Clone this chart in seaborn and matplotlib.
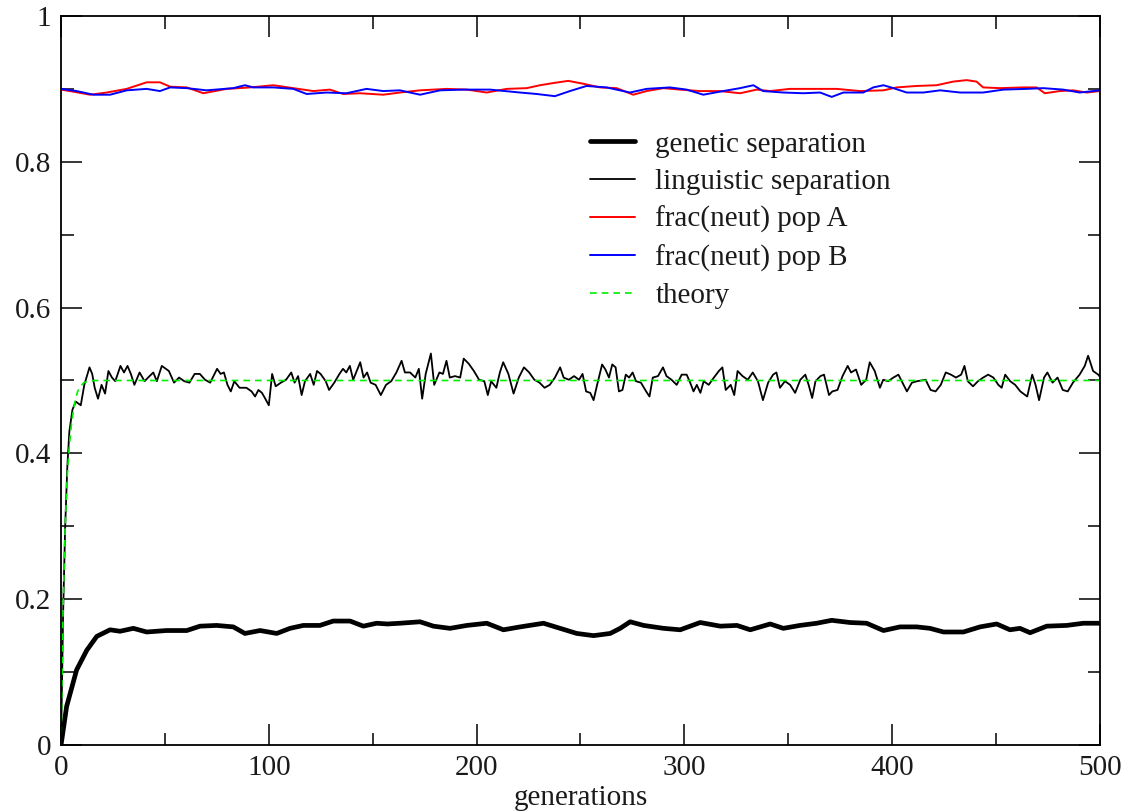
import numpy as np
import matplotlib
matplotlib.use("Agg")
import matplotlib.pyplot as plt
import seaborn as sns

# values
theory_gen = [0, 1, 2, 3, 4, 5, 6, 7, 8, 9, 10, 11, 12, 14, 16, 20, 500]
theory_val = [0.0, 0.19, 0.30, 0.37, 0.41, 0.44, 0.46, 0.475, 0.485, 0.49,
              0.494, 0.497, 0.498, 0.499, 0.5, 0.5, 0.5]

ling_gen = [0, 1, 2, 3, 4, 5.5, 7.1, 9.5, 11.2, 13.7, 15.0, 16.2, 17.8, 19.5, 21.2,
            22.8, 24.5, 26.1, 28.6, 30.3, 32.0, 33.6, 35.3, 37.8, 40.2, 41.9, 44.4,
            46.1, 48.5, 51.9, 54.4, 56.8, 59.3, 61.8, 64.3, 66.8, 69.3, 71.8, 75.1,
            76.8, 78.4, 80.1, 81.7, 83.4, 85.9, 89.2, 91.7, 93.4, 95.0, 96.7, 98.3,
            100.0, 101.6, 103.3, 105.8, 108.3, 110.8, 112.4, 114.1, 115.8, 117.4,
            119.9, 121.6, 123.2, 124.9, 127.4, 129.0, 131.5, 134.0, 135.7, 137.3,
            139.0, 140.6, 144.0, 145.6, 147.3, 149.0, 151.4, 153.9, 156.4, 158.9,
            161.4, 163.9, 165.5, 168.0, 170.5, 172.2, 173.8, 175.5, 178.0, 179.6,
            182.1, 183.8, 185.5, 187.1, 189.6, 192.1, 193.8, 196.2, 198.7, 201.2,
            203.7, 205.4, 207.0, 209.5, 211.2, 212.8, 215.3, 217.8, 220.3, 222.8,
            225.3, 227.8, 230.3, 232.7, 235.2, 237.7, 240.2, 241.9, 244.4, 246.9,
            249.3, 251.0, 252.7, 254.7, 256.3, 258.0, 260.4, 262.0, 263.7, 265.3,
            266.9, 268.5, 270.2, 271.8, 273.4, 275.1, 276.7, 279.1, 281.6, 283.2,
            284.8, 287.3, 289.7, 291.4, 293.8, 296.3, 298.7, 301.1, 302.8, 304.4,
            306.0, 307.7, 309.3, 311.7, 314.2, 316.6, 318.3, 319.9, 322.3, 324.0,
            325.6, 328.0, 330.5, 332.9, 335.4, 337.8, 340.3, 342.7, 344.3, 346.0,
            348.4, 350.9, 353.3, 355.8, 358.2, 359.8, 361.5, 363.1, 365.5, 367.2,
            369.6, 371.2, 373.7, 376.1, 378.6, 380.2, 382.6, 385.1, 387.5, 389.2,
            391.6, 394.1, 395.7, 398.1, 400.6, 403.0, 405.5, 407.1, 409.5, 412.0,
            416.1, 418.5, 420.9, 423.4, 425.8, 428.3, 430.7, 433.2, 434.8, 436.4,
            438.9, 441.3, 443.8, 446.2, 448.7, 451.1, 452.7, 454.4, 456.8, 459.2,
            461.7, 465.0, 467.4, 469.0, 470.7, 473.1, 474.7, 477.2, 479.6, 482.1,
            484.5, 487.0, 490.2, 492.7, 494.3, 496.7, 499.2, 500]
ling_val = [0.0, 0.18, 0.30, 0.38, 0.43, 0.46, 0.471, 0.466, 0.494, 0.518, 0.509,
            0.490, 0.475, 0.494, 0.482, 0.513, 0.504, 0.499, 0.520, 0.511, 0.520,
            0.509, 0.494, 0.511, 0.499, 0.504, 0.511, 0.499, 0.520, 0.513, 0.497,
            0.504, 0.499, 0.497, 0.509, 0.509, 0.501, 0.497, 0.516, 0.509, 0.511,
            0.494, 0.485, 0.499, 0.490, 0.490, 0.485, 0.478, 0.487, 0.483, 0.475,
            0.466, 0.509, 0.492, 0.497, 0.501, 0.511, 0.497, 0.506, 0.480, 0.499,
            0.509, 0.494, 0.513, 0.509, 0.499, 0.487, 0.497, 0.509, 0.516, 0.511,
            0.520, 0.501, 0.525, 0.504, 0.511, 0.497, 0.494, 0.480, 0.494, 0.499,
            0.511, 0.527, 0.511, 0.511, 0.504, 0.516, 0.475, 0.509, 0.537, 0.494,
            0.511, 0.509, 0.527, 0.504, 0.506, 0.504, 0.530, 0.523, 0.513, 0.501,
            0.499, 0.480, 0.499, 0.490, 0.511, 0.525, 0.509, 0.482, 0.504, 0.518,
            0.511, 0.501, 0.497, 0.490, 0.494, 0.504, 0.518, 0.504, 0.501, 0.506,
            0.501, 0.509, 0.485, 0.483, 0.473, 0.494, 0.522, 0.515, 0.504, 0.522,
            0.518, 0.485, 0.487, 0.508, 0.504, 0.511, 0.499, 0.497, 0.485, 0.478,
            0.504, 0.506, 0.518, 0.506, 0.501, 0.494, 0.508, 0.508, 0.497, 0.485,
            0.494, 0.483, 0.499, 0.494, 0.504, 0.513, 0.518, 0.487, 0.494, 0.480,
            0.513, 0.506, 0.501, 0.511, 0.499, 0.473, 0.497, 0.508, 0.511, 0.490,
            0.499, 0.494, 0.483, 0.501, 0.508, 0.494, 0.476, 0.499, 0.506, 0.508,
            0.480, 0.485, 0.487, 0.506, 0.520, 0.511, 0.515, 0.494, 0.501, 0.525,
            0.513, 0.490, 0.501, 0.499, 0.504, 0.508, 0.494, 0.485, 0.497, 0.499,
            0.501, 0.487, 0.485, 0.494, 0.511, 0.508, 0.504, 0.508, 0.520, 0.499,
            0.492, 0.499, 0.504, 0.508, 0.504, 0.494, 0.490, 0.508, 0.499, 0.494,
            0.485, 0.478, 0.508, 0.494, 0.473, 0.504, 0.511, 0.497, 0.504, 0.487,
            0.485, 0.497, 0.508, 0.520, 0.534, 0.513, 0.508, 0.505]

gene_gen = [0, 2.7, 7.5, 12.4, 17.2, 23.6, 28.4, 34.8, 41.2, 50.8, 60.5, 66.9, 74.9,
            82.9, 88.5, 95.8, 103.8, 110.2, 116.6, 124.6, 131.0, 139.1, 145.5, 151.9,
            157.0, 163.1, 172.8, 179.2, 187.2, 195.3, 204.9, 212.9, 221.0, 232.2,
            240.2, 248.2, 256.3, 264.3, 269.1, 273.9, 280.4, 290.0, 298.0, 307.6,
            317.3, 325.3, 331.7, 341.3, 347.6, 355.6, 363.7, 370.9, 379.7, 387.7,
            395.8, 403.8, 411.8, 418.2, 424.7, 434.3, 442.3, 450.3, 456.7, 461.5,
            466.4, 474.4, 484.0, 492.0, 500]
gene_val = [0.0, 0.053, 0.103, 0.130, 0.149, 0.158, 0.156, 0.160, 0.155, 0.157,
            0.157, 0.163, 0.164, 0.162, 0.153, 0.157, 0.153, 0.160, 0.164, 0.164,
            0.170, 0.170, 0.163, 0.167, 0.166, 0.167, 0.169, 0.163, 0.160, 0.164,
            0.167, 0.158, 0.162, 0.167, 0.160, 0.153, 0.150, 0.153, 0.160, 0.169,
            0.164, 0.160, 0.158, 0.168, 0.163, 0.164, 0.158, 0.166, 0.160, 0.164,
            0.167, 0.171, 0.168, 0.167, 0.157, 0.162, 0.162, 0.160, 0.155, 0.155,
            0.162, 0.166, 0.158, 0.160, 0.154, 0.163, 0.164, 0.167, 0.167]

popA_gen = [0, 4.3, 14.0, 22.0, 31.6, 41.2, 47.6, 52.5, 60.5, 68.5, 79.7, 91.0,
            102.2, 111.8, 121.4, 129.4, 135.8, 143.9, 155.1, 163.1, 172.8, 185.6,
            195.3, 204.9, 214.5, 224.1, 230.5, 236.9, 244.1, 251.4, 259.4, 267.4,
            275.4, 281.8, 289.9, 297.9, 307.5, 317.1, 326.8, 334.8, 341.2, 350.8,
            363.7, 373.3, 384.5, 395.8, 402.2, 411.8, 421.4, 429.4, 435.8, 440.6,
            443.8, 451.9, 463.1, 469.5, 473.5, 480.7, 487.1, 493.6, 500]
popA_val = [0.899, 0.897, 0.892, 0.895, 0.900, 0.909, 0.909, 0.903, 0.902, 0.894,
            0.900, 0.902, 0.905, 0.901, 0.897, 0.899, 0.893, 0.894, 0.892, 0.895,
            0.898, 0.900, 0.899, 0.895, 0.900, 0.901, 0.905, 0.908, 0.911, 0.907,
            0.902, 0.901, 0.892, 0.897, 0.901, 0.899, 0.897, 0.897, 0.894, 0.899,
            0.897, 0.900, 0.900, 0.900, 0.897, 0.898, 0.902, 0.904, 0.905, 0.910,
            0.912, 0.910, 0.902, 0.901, 0.902, 0.902, 0.894, 0.897, 0.898, 0.895,
            0.897]

popB_gen = [0, 7.5, 15.6, 23.6, 31.6, 41.2, 47.6, 52.5, 60.5, 70.1, 82.9, 88.5,
            92.6, 102.2, 111.8, 118.2, 127.8, 137.4, 147.0, 155.1, 163.1, 172.8,
            182.4, 193.6, 206.5, 220.9, 228.9, 237.7, 244.9, 252.9, 262.5, 273.8,
            281.8, 293.0, 301.1, 309.1, 318.7, 326.8, 333.2, 337.9, 347.6, 357.2,
            365.3, 370.9, 376.5, 386.1, 390.9, 395.8, 400.6, 407.0, 415.0, 423.1,
            432.7, 443.8, 453.5, 464.7, 472.7, 482.3, 490.3, 500]
popB_val = [0.900, 0.897, 0.892, 0.892, 0.898, 0.900, 0.897, 0.902, 0.901, 0.898,
            0.901, 0.905, 0.902, 0.902, 0.900, 0.893, 0.895, 0.894, 0.900, 0.897,
            0.898, 0.892, 0.898, 0.899, 0.899, 0.895, 0.893, 0.890, 0.897, 0.904,
            0.902, 0.895, 0.900, 0.902, 0.899, 0.892, 0.897, 0.901, 0.905, 0.897,
            0.895, 0.894, 0.895, 0.889, 0.895, 0.895, 0.902, 0.905, 0.901, 0.895,
            0.895, 0.898, 0.895, 0.895, 0.899, 0.900, 0.901, 0.899, 0.895, 0.898]

sns.set_theme(style="white")
plt.rcParams['font.family'] = ['Liberation Serif', 'DejaVu Serif']

fig = plt.figure(figsize=(11.24, 8.11), dpi=100)
ax = fig.add_axes([0.0543, 0.0814, 0.9243, 0.8989])

sns.lineplot(x=gene_gen, y=gene_val, ax=ax, color='black', linewidth=3.4,
             label='genetic separation', estimator=None, sort=False)
sns.lineplot(x=ling_gen, y=ling_val, ax=ax, color='black', linewidth=1.3,
             label='linguistic separation', estimator=None, sort=False)
sns.lineplot(x=popA_gen, y=popA_val, ax=ax, color='#ff0000', linewidth=1.4,
             label='frac(neut) pop A', estimator=None, sort=False)
sns.lineplot(x=popB_gen, y=popB_val, ax=ax, color='#0000ff', linewidth=1.4,
             label='frac(neut) pop B', estimator=None, sort=False)
sns.lineplot(x=theory_gen, y=theory_val, ax=ax, color='#00ee00', linewidth=1.2,
             linestyle=(0, (4, 3)), label='theory', estimator=None, sort=False)

ax.set_xlim(0, 500)
ax.set_ylim(0, 1)
ax.set_xticks([0, 100, 200, 300, 400, 500])
ax.set_xticks([50, 150, 250, 350, 450], minor=True)
ax.set_yticks([0, 0.2, 0.4, 0.6, 0.8, 1.0])
ax.set_yticklabels(['0', '0.2', '0.4', '0.6', '0.8', '1'])
ax.set_yticks([0.1, 0.3, 0.5, 0.7, 0.9], minor=True)
ax.tick_params(which='both', direction='in', top=True, right=True,
               bottom=True, left=True, width=1.1, color='black',
               labelsize=21, labelcolor='#1a1a1a')
ax.tick_params(which='major', length=15, pad=7)
ax.tick_params(which='minor', length=9)
for sp in ax.spines.values():
    sp.set_color('black')
    sp.set_linewidth(1.3)

ax.set_xlabel('generations', fontsize=21, color='#1a1a1a', labelpad=3)
ax.set_ylabel('')

leg = ax.legend(loc='upper left', bbox_to_anchor=(0.509, 0.842), frameon=False,
                fontsize=21, handlelength=1.55, handletextpad=0.7,
                labelspacing=0.38, borderpad=0, borderaxespad=0)
for t in leg.get_texts():
    t.set_color('#1a1a1a')

fig.savefig('out.png', dpi=100)
